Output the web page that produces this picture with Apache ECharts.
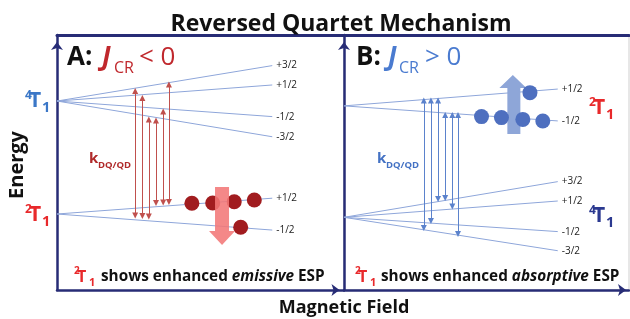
<!DOCTYPE html>
<html>
<head>
<meta charset="utf-8">
<script src="https://cdn.jsdelivr.net/npm/echarts@6/dist/echarts.min.js"></script>
<style>
  html, body { margin: 0; padding: 0; background: #fff; }
  #main { width: 630px; height: 319px; }
</style>
</head>
<body>
<div id="main"></div>
<script>
// field range of the sublevel lines (x units)
var fieldStart = 0, fieldEnd = 3;
var quartetLabels = ['+3/2', '+1/2', '-1/2', '-3/2'];
var doubletLabels = ['+1/2', '-1/2'];

// panel A (J_CR < 0): quartet above doublet
var aQuartetZero = 7.41;
var aQuartetEnd = [8.80, 8.04, 6.80, 6.01];
var aDoubletZero = 2.98;
var aDoubletEnd = [3.60, 2.35];
var aArrowField = [1.09, 1.19, 1.28, 1.38, 1.48, 1.56];
var aArrowTop = [7.80, 7.53, 6.69, 6.65, 7.00, 8.06];
var aArrowBottom = [2.92, 2.90, 2.88, 3.41, 3.43, 3.45];
var aSpinField = [1.88, 2.17, 2.47, 2.75, 2.56];
var aSpinEnergy = [3.40, 3.41, 3.46, 3.53, 2.46];
var aBigArrow = [2.30, 2.90];

// panel B (J_CR > 0): doublet above quartet
var bDoubletZero = 7.22;
var bDoubletEnd = [7.88, 6.63];
var bQuartetZero = 2.85;
var bQuartetEnd = [4.25, 3.49, 2.29, 1.54];
var bArrowField = [1.12, 1.22, 1.32, 1.42, 1.52, 1.60];
var bArrowTop = [7.43, 7.43, 7.43, 6.86, 6.86, 6.86];
var bArrowBottom = [2.43, 2.71, 3.57, 3.61, 3.27, 2.20];
var bSpinField = [1.93, 2.21, 2.51, 2.79, 2.61];
var bSpinEnergy = [6.80, 6.76, 6.69, 6.63, 7.74];
var bBigArrow = [2.37, 7.27];

var NAVY = '#272c76';
var FONT = '"Open Sans", sans-serif';

function levels(zero, ends, labels) {
    return ends.map(function (e, i) {
        return { name: labels[i], coords: [[fieldStart, zero], [fieldEnd, e]] };
    });
}
function arrows(xs, tops, bottoms) {
    return xs.map(function (x, i) {
        return { coords: [[x, bottoms[i]], [x, tops[i]]] };
    });
}
function points(xs, ys) {
    return xs.map(function (x, i) { return [x, ys[i]]; });
}

function levelSeries(idx, data) {
    return {
        type: 'lines', coordinateSystem: 'cartesian2d', xAxisIndex: idx, yAxisIndex: idx,
        z: 2, data: data, symbol: ['none', 'none'],
        lineStyle: { color: '#8ea6da', width: 1, opacity: 1 },
        label: { show: true, position: 'end', formatter: '{b}', fontSize: 10, color: '#222', distance: 4, fontFamily: FONT }
    };
}
function arrowSeries(idx, data, color) {
    return {
        type: 'lines', coordinateSystem: 'cartesian2d', xAxisIndex: idx, yAxisIndex: idx,
        z: 3, data: data, symbol: ['triangle', 'triangle'], symbolSize: 6,
        lineStyle: { color: color, width: 1, opacity: 1 }
    };
}

// text helper
function txt(x, y, text, size, color, extra) {
    var el = {
        type: 'text', x: x, y: y, z: 10,
        style: {
            text: text, fontSize: size, fontFamily: FONT, fontWeight: 'bold', fill: color,
            textAlign: 'left', align: 'left', textVerticalAlign: 'middle', verticalAlign: 'middle'
        }
    };
    if (extra) {
        for (var k in extra) {
            if (k === 'rotation') el.rotation = extra[k];
            else el.style[k] = extra[k];
        }
    }
    return el;
}
// term symbol like 4T1 as three pieces
function term(x, y, sup, color, size) {
    return [
        txt(x, y - 5, sup, size * 0.57, color),
        txt(x + 4, y, 'T', size, color),
        txt(x + 17, y + 7, '1', size * 0.7, color)
    ];
}

var RED_DARK = '#c0282d';
var RED = '#e8292b';
var BLUE = '#4a7bd0';
var BLUE_TERM = '#3b77c7';

var graphics = [
    txt(341, 24, 'Reversed Quartet Mechanism', 23, '#111', { textAlign: 'center', align: 'center' }),
    txt(17, 165, 'Energy', 20, '#111', { textAlign: 'center', align: 'center', rotation: Math.PI / 2 }),
    txt(344, 308, 'Magnetic Field', 18, '#111', { textAlign: 'center', align: 'center' }),

    txt(67, 58, 'A:', 26, '#111'),
    txt(102, 58, 'J', 26, RED_DARK, { fontStyle: 'italic' }),
    txt(114, 68, 'CR', 16, RED_DARK, { fontWeight: 'normal' }),
    txt(139, 58, '< 0', 26, RED_DARK, { fontWeight: 'normal' }),

    txt(356, 58, 'B:', 26, '#111'),
    txt(388, 58, 'J', 26, BLUE, { fontStyle: 'italic' }),
    txt(399, 68, 'CR', 16, BLUE, { fontWeight: 'normal' }),
    txt(425, 58, '> 0', 26, BLUE, { fontWeight: 'normal' }),

    txt(89, 159, 'k', 15, '#b02a2a'),
    txt(98, 165, 'DQ/QD', 9.5, '#b02a2a'),
    txt(377, 159, 'k', 15, '#4472c4'),
    txt(386, 165, 'DQ/QD', 9.5, '#4472c4'),

    txt(74, 271, '2', 10, RED),
    txt(77, 277, 'T', 16, RED),
    txt(89, 283, '1', 11, RED),
    txt(101, 277, 'shows enhanced {i|emissive} ESP', 15.3, '#111', {
        rich: { i: { fontStyle: 'italic', fontWeight: 'bold', fontSize: 15.3, fontFamily: FONT, fill: '#111' } }
    }),
    txt(355, 271, '2', 10, RED),
    txt(358, 277, 'T', 16, RED),
    txt(370, 283, '1', 11, RED),
    txt(381, 277, 'shows enhanced {i|absorptive} ESP', 15.3, '#111', {
        rich: { i: { fontStyle: 'italic', fontWeight: 'bold', fontSize: 15.3, fontFamily: FONT, fill: '#111' } }
    })
];
graphics = graphics
    .concat(term(25, 101, '4', BLUE_TERM, 21))
    .concat(term(25, 215, '2', RED, 21))
    .concat(term(589, 108, '2', RED, 21))
    .concat(term(589, 216, '4', '#2b3990', 21));

var hiddenAxis = { axisTick: { show: false }, axisLabel: { show: false }, splitLine: { show: false } };
function xAx(grid, pos, arrow, offset) {
    return Object.assign({
        type: 'value', gridIndex: grid, position: pos, min: 0, max: 4,
        axisLine: {
            show: true, onZero: false,
            symbol: arrow ? ['none', 'arrow'] : ['none', 'none'],
            symbolSize: [9, 8], symbolOffset: [0, offset || 0],
            lineStyle: { color: NAVY, width: pos === 'top' ? 3 : 2.5 }
        }
    }, hiddenAxis);
}
function yAx(grid) {
    return Object.assign({
        type: 'value', gridIndex: grid, min: 0, max: 10,
        axisLine: {
            show: true, onZero: false, symbol: ['none', 'arrow'],
            symbolSize: [9, 8], symbolOffset: [0, -7],
            lineStyle: { color: NAVY, width: 2.5 }
        }
    }, hiddenAxis);
}

var chart = echarts.init(document.getElementById('main'));
chart.setOption({
    animation: false,
    grid: [
        { left: 57, top: 35, width: 287, height: 255 },
        { left: 344, top: 35, width: 285, height: 255, show: true, borderColor: '#cfcfcf', borderWidth: 1 }
    ],
    xAxis: [xAx(0, 'bottom', true, -4.5), xAx(1, 'bottom', true, -3), xAx(0, 'top', false), xAx(1, 'top', false)],
    yAxis: [yAx(0), yAx(1)],
    graphic: graphics,
    series: [
        levelSeries(0, levels(aQuartetZero, aQuartetEnd, quartetLabels)),
        levelSeries(0, levels(aDoubletZero, aDoubletEnd, doubletLabels)),
        arrowSeries(0, arrows(aArrowField, aArrowTop, aArrowBottom), '#c0504d'),
        {
            type: 'scatter', xAxisIndex: 0, yAxisIndex: 0, z: 4,
            data: points(aSpinField, aSpinEnergy), symbolSize: 15,
            itemStyle: { color: '#a11c1f', opacity: 1 }
        },
        {
            type: 'scatter', xAxisIndex: 0, yAxisIndex: 0, z: 5,
            data: [aBigArrow], symbolSize: [26, 58],
            symbol: 'path://M6,0 L20,0 L20,44 L26,44 L13,58 L0,44 L6,44 Z',
            itemStyle: { color: '#f27777', opacity: 0.88 }
        },

        levelSeries(1, levels(bDoubletZero, bDoubletEnd, doubletLabels)),
        levelSeries(1, levels(bQuartetZero, bQuartetEnd, quartetLabels)),
        arrowSeries(1, arrows(bArrowField, bArrowTop, bArrowBottom), '#5b82cc'),
        {
            type: 'scatter', xAxisIndex: 1, yAxisIndex: 1, z: 3,
            data: [bBigArrow], symbolSize: [27, 59],
            symbol: 'path://M13.5,0 L27,13 L21,13 L21,59 L8,59 L8,13 L0,13 Z',
            itemStyle: { color: '#8ea6d8', opacity: 1 }
        },
        {
            type: 'scatter', xAxisIndex: 1, yAxisIndex: 1, z: 4,
            data: points(bSpinField, bSpinEnergy), symbolSize: 15,
            itemStyle: { color: '#4e6fbf', opacity: 1 }
        }
    ]
});
</script>
</body>
</html>
